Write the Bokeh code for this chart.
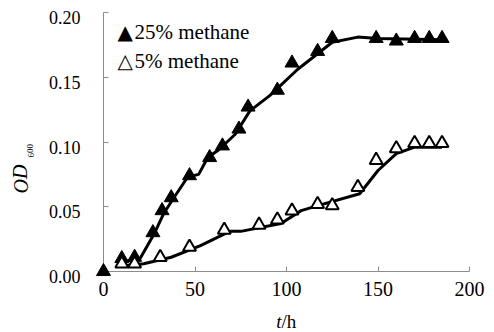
from bokeh.plotting import figure
from bokeh.models import Range1d, FixedTicker
from bokeh.core.properties import value
from bokeh.embed import file_html
from bokeh.resources import INLINE

# 25% methane: measured points
t25 = [0, 10, 17, 27, 32, 37, 47, 58, 65, 74, 79, 95, 103, 117, 125, 149, 160, 170, 178, 185]
od25 = [0.000, 0.010, 0.011, 0.030, 0.047, 0.057, 0.074, 0.088, 0.097, 0.110, 0.127,
        0.140, 0.161, 0.170, 0.180, 0.180, 0.178, 0.180, 0.180, 0.180]
# 25% methane: curve
line_t25 = [8, 20, 28, 33, 38, 46, 52, 57, 63, 72, 80, 91, 106, 125, 139, 150, 185]
line_od25 = [0.007, 0.010, 0.030, 0.045, 0.056, 0.073, 0.075, 0.088, 0.094, 0.106,
             0.124, 0.136, 0.156, 0.177, 0.181, 0.180, 0.179]

# 5% methane: measured points
t5 = [10, 17, 31, 47, 66, 85, 95, 103, 117, 125, 139, 149, 160, 170, 178, 185]
od5 = [0.006, 0.006, 0.011, 0.019, 0.032, 0.036, 0.040, 0.047, 0.052, 0.051,
       0.065, 0.086, 0.095, 0.099, 0.099, 0.099]
# 5% methane: curve
line_t5 = [8, 22, 37, 53, 69, 75, 97, 108, 120, 140, 150, 160, 170, 185]
line_od5 = [0.004, 0.006, 0.011, 0.020, 0.031, 0.031, 0.037, 0.047, 0.052, 0.060,
            0.078, 0.091, 0.096, 0.096]

x_ticks = [0, 50, 100, 150, 200]
y_ticks = [0.00, 0.05, 0.10, 0.15, 0.20]
x_tick_labels = ["0", "50", "100", "150", "200"]
y_tick_labels = ["0.00", "0.05", "0.10", "0.15", "0.20"]

legend_symbols = ["\u25b2", "\u25b3"]
legend_labels = ["25% methane", "5% methane"]

FONT = value("Liberation Serif, Times New Roman, serif")
SYMBOL_FONT = value("DejaVu Sans")

p = figure(width=494, height=332, output_backend="svg", toolbar_location=None,
           x_range=Range1d(x_ticks[0], x_ticks[-1]), y_range=Range1d(y_ticks[0], y_ticks[-1]),
           min_border_left=103, min_border_right=25, min_border_top=12, min_border_bottom=61)
p.outline_line_color = None
p.grid.visible = False
p.background_fill_color = "white"

for ax in (p.xaxis[0], p.yaxis[0]):
    ax.axis_line_color = "#8c8c8c"
    ax.axis_line_width = 1
    ax.major_tick_line_color = "#8c8c8c"
    ax.major_tick_in = 5
    ax.major_tick_out = 0
    ax.minor_tick_line_color = None
    ax.minor_tick_in = 0
    ax.minor_tick_out = 0
    ax.major_label_text_font_size = "0px"
    ax.major_label_text_alpha = 0

p.xaxis[0].ticker = FixedTicker(ticks=x_ticks)
p.yaxis[0].ticker = FixedTicker(ticks=y_ticks)
p.xaxis[0].major_label_overrides = {t: "" for t in x_ticks}
p.yaxis[0].major_label_overrides = {t: "" for t in y_ticks}

p.line(line_t25, line_od25, line_color="black", line_width=3, level="overlay")
p.line(line_t5, line_od5, line_color="black", line_width=3, level="overlay")
p.scatter(t25, od25, marker="triangle", size=14, fill_color="black",
          line_color="black", line_width=1, level="overlay")
p.scatter(t5, od5, marker="triangle", size=13, fill_color="white",
          line_color="black", line_width=2, level="overlay")

x0, x1 = x_ticks[0], x_ticks[-1]
y0, y1 = y_ticks[0], y_ticks[-1]
x_mid = (x0 + x1) / 2

# tick labels, drawn at the axis tick positions (overlay level => not clipped)
p.text(x=x_ticks, y=[y0] * len(x_ticks), text=x_tick_labels, y_offset=17,
       text_font=FONT, text_font_size="20px", text_align="center",
       text_baseline="middle", text_color="black", level="overlay")
p.text(x=[x0] * len(y_ticks), y=y_ticks, text=y_tick_labels, x_offset=-23, y_offset=5,
       text_font=FONT, text_font_size="18px", text_align="right",
       text_baseline="middle", text_color="black", level="overlay")

# legend: symbols and texts
p.text(x=[x0, x0], y=[y1, y1], text=legend_symbols, x_offset=14, y_offset=[19, 48],
       text_font=SYMBOL_FONT, text_font_size="20px", text_align="left",
       text_baseline="middle", text_color="black", level="overlay")
p.text(x=[x0, x0], y=[y1, y1], text=legend_labels, x_offset=31, y_offset=[19, 48],
       text_font=FONT, text_font_size="21px", text_align="left",
       text_baseline="middle", text_color="black", level="overlay")

# x-axis title: t/h
p.text(x=[x_mid], y=[y0], text=["t"], x_offset=-5, y_offset=50,
       text_font=FONT, text_font_style="italic", text_font_size="19px",
       text_align="right", text_baseline="middle", text_color="black", level="overlay")
p.text(x=[x_mid], y=[y0], text=["/h"], x_offset=-5, y_offset=50,
       text_font=FONT, text_font_size="19px",
       text_align="left", text_baseline="middle", text_color="black", level="overlay")

# y-axis title: OD600
p.text(x=[x0], y=[y0], text=["OD"], x_offset=-83, y_offset=-78, angle=1.5708,
       text_font=FONT, text_font_style="italic", text_font_size="20px",
       text_align="left", text_baseline="middle", text_color="black", level="overlay")
p.text(x=[x0], y=[y0], text=["600"], x_offset=-73, y_offset=-114, angle=1.5708,
       text_font=FONT, text_font_size="9px",
       text_align="left", text_baseline="middle", text_color="black", level="overlay")

open("out.html", "w").write(file_html(p, INLINE))
